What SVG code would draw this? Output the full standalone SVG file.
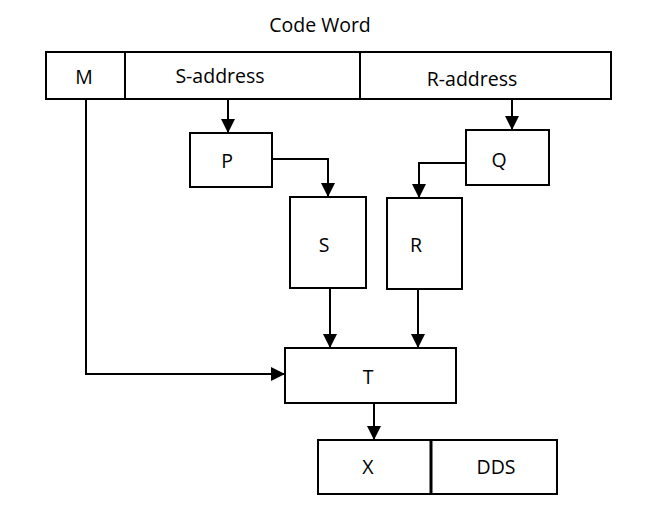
<svg xmlns="http://www.w3.org/2000/svg" width="655" height="527" viewBox="0 0 655 527">
<style>
.box{fill:#fff;stroke:#000;stroke-width:2}
.lbl{font-family:"Open Sans","Noto Sans",sans-serif;font-size:19.5px;fill:#000;text-anchor:middle}
.conn{fill:none;stroke:#000;stroke-width:2}
</style>
<defs>
<marker id="arr" markerUnits="userSpaceOnUse" markerWidth="14" markerHeight="14" viewBox="0 0 14 14" refX="14" refY="7" orient="auto">
<path d="M0,0 L14,7 L0,14 z" fill="#000"/>
</marker>
</defs>
<rect width="655" height="527" fill="#fff"/>
<text class="lbl" x="320" y="32">Code Word</text>
<g id="codeword">
<rect class="box" x="46" y="52" width="565" height="47"/>
<line x1="125" y1="52" x2="125" y2="99" stroke="#000" stroke-width="2"/>
<line x1="360" y1="52" x2="360" y2="99" stroke="#000" stroke-width="2"/>
<text class="lbl" x="84" y="84">M</text>
<text class="lbl" x="220" y="83">S-address</text>
<text class="lbl" x="472" y="86">R-address</text>
</g>
<g id="P"><rect class="box" x="190" y="133" width="82" height="54"/><text class="lbl" x="227" y="168">P</text></g>
<g id="Q"><rect class="box" x="466" y="130" width="83" height="55"/><text class="lbl" x="499" y="167">Q</text></g>
<g id="S"><rect class="box" x="290" y="197" width="76" height="91"/><text class="lbl" x="324" y="252">S</text></g>
<g id="R"><rect class="box" x="387" y="198" width="75" height="91"/><text class="lbl" x="416" y="252">R</text></g>
<g id="T"><rect class="box" x="285" y="348" width="171" height="55"/><text class="lbl" x="368" y="384">T</text></g>
<g id="X"><rect class="box" x="318" y="440" width="113" height="54"/><text class="lbl" x="368" y="474">X</text></g>
<g id="DDS"><rect class="box" x="431" y="440" width="126" height="54"/><line x1="431" y1="440" x2="431" y2="494" stroke="#000" stroke-width="3"/><text class="lbl" x="496" y="474">DDS</text></g>
<g id="connectors">
<path class="conn" d="M228,99 V133" marker-end="url(#arr)"/>
<path class="conn" d="M512,99 V130" marker-end="url(#arr)"/>
<path class="conn" d="M272,159 H328 V197" marker-end="url(#arr)"/>
<path class="conn" d="M466,163 H419 V198" marker-end="url(#arr)"/>
<path class="conn" d="M330,288 V348" marker-end="url(#arr)"/>
<path class="conn" d="M418,289 V348" marker-end="url(#arr)"/>
<path class="conn" d="M86,99 V374 H285" marker-end="url(#arr)"/>
<path class="conn" d="M374,403 V440" marker-end="url(#arr)"/>
</g>
</svg>
